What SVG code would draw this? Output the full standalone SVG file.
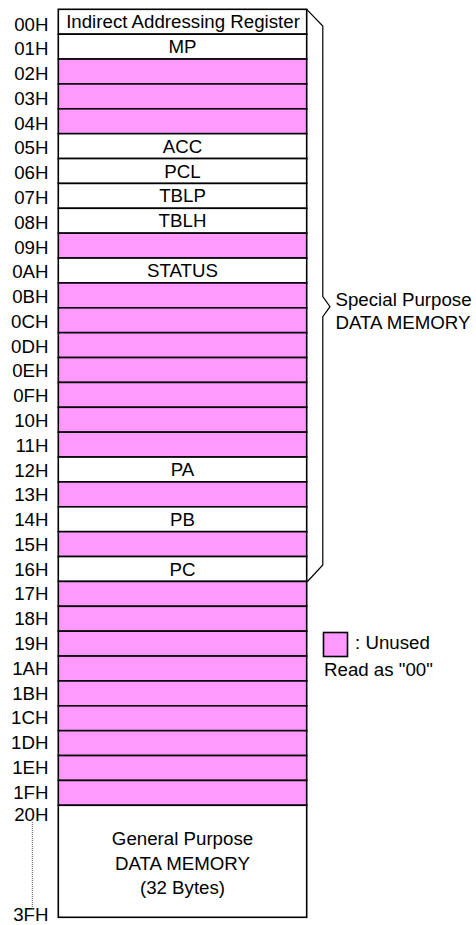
<svg xmlns="http://www.w3.org/2000/svg" width="476" height="925" viewBox="0 0 476 925">
<style>
text{font-family:"Liberation Sans",Arial,sans-serif;font-size:18.7px;fill:#000}
.u{fill:#ff99ff;stroke:#000;stroke-width:1.6}
.n{fill:#fff;stroke:#000;stroke-width:1.6}
.a{text-anchor:end}
.c{text-anchor:middle}
.br{fill:none;stroke:#000;stroke-width:1.2}
</style>
<rect width="476" height="925" fill="#fff"/>
<g id="rows">
<g id="r00"><rect class="n" x="58.3" y="9.3" width="248.4" height="24.875"/><text class="c" x="183" y="28.3">Indirect Addressing Register</text><text class="a" x="48.5" y="30.5">00H</text></g>
<g id="r01"><rect class="n" x="58.3" y="34.18" width="248.4" height="24.875"/><text class="c" x="182.5" y="53.18">MP</text><text class="a" x="48.5" y="55.28">01H</text></g>
<g id="r02"><rect class="u" x="58.3" y="59.05" width="248.4" height="24.875"/><text class="a" x="48.5" y="80.06">02H</text></g>
<g id="r03"><rect class="u" x="58.3" y="83.93" width="248.4" height="24.875"/><text class="a" x="48.5" y="104.84">03H</text></g>
<g id="r04"><rect class="u" x="58.3" y="108.8" width="248.4" height="24.875"/><text class="a" x="48.5" y="129.62">04H</text></g>
<g id="r05"><rect class="n" x="58.3" y="133.68" width="248.4" height="24.875"/><text class="c" x="182.5" y="152.68">ACC</text><text class="a" x="48.5" y="154.4">05H</text></g>
<g id="r06"><rect class="n" x="58.3" y="158.55" width="248.4" height="24.875"/><text class="c" x="182.5" y="177.55">PCL</text><text class="a" x="48.5" y="179.18">06H</text></g>
<g id="r07"><rect class="n" x="58.3" y="183.43" width="248.4" height="24.875"/><text class="c" x="182.5" y="202.43">TBLP</text><text class="a" x="48.5" y="203.96">07H</text></g>
<g id="r08"><rect class="n" x="58.3" y="208.3" width="248.4" height="24.875"/><text class="c" x="182.5" y="227.3">TBLH</text><text class="a" x="48.5" y="228.74">08H</text></g>
<g id="r09"><rect class="u" x="58.3" y="233.18" width="248.4" height="24.875"/><text class="a" x="48.5" y="253.52">09H</text></g>
<g id="r0A"><rect class="n" x="58.3" y="258.05" width="248.4" height="24.875"/><text class="c" x="182.5" y="277.05">STATUS</text><text class="a" x="48.5" y="278.3">0AH</text></g>
<g id="r0B"><rect class="u" x="58.3" y="282.93" width="248.4" height="24.875"/><text class="a" x="48.5" y="303.08">0BH</text></g>
<g id="r0C"><rect class="u" x="58.3" y="307.8" width="248.4" height="24.875"/><text class="a" x="48.5" y="327.86">0CH</text></g>
<g id="r0D"><rect class="u" x="58.3" y="332.68" width="248.4" height="24.875"/><text class="a" x="48.5" y="352.64">0DH</text></g>
<g id="r0E"><rect class="u" x="58.3" y="357.55" width="248.4" height="24.875"/><text class="a" x="48.5" y="377.42">0EH</text></g>
<g id="r0F"><rect class="u" x="58.3" y="382.43" width="248.4" height="24.875"/><text class="a" x="48.5" y="402.2">0FH</text></g>
<g id="r10"><rect class="u" x="58.3" y="407.3" width="248.4" height="24.875"/><text class="a" x="48.5" y="426.98">10H</text></g>
<g id="r11"><rect class="u" x="58.3" y="432.18" width="248.4" height="24.875"/><text class="a" x="48.5" y="451.76">11H</text></g>
<g id="r12"><rect class="n" x="58.3" y="457.05" width="248.4" height="24.875"/><text class="c" x="182.5" y="476.05">PA</text><text class="a" x="48.5" y="476.54">12H</text></g>
<g id="r13"><rect class="u" x="58.3" y="481.93" width="248.4" height="24.875"/><text class="a" x="48.5" y="501.32">13H</text></g>
<g id="r14"><rect class="n" x="58.3" y="506.8" width="248.4" height="24.875"/><text class="c" x="182.5" y="525.8">PB</text><text class="a" x="48.5" y="526.1">14H</text></g>
<g id="r15"><rect class="u" x="58.3" y="531.68" width="248.4" height="24.875"/><text class="a" x="48.5" y="550.88">15H</text></g>
<g id="r16"><rect class="n" x="58.3" y="556.55" width="248.4" height="24.875"/><text class="c" x="182.5" y="575.55">PC</text><text class="a" x="48.5" y="575.66">16H</text></g>
<g id="r17"><rect class="u" x="58.3" y="581.43" width="248.4" height="24.875"/><text class="a" x="48.5" y="600.44">17H</text></g>
<g id="r18"><rect class="u" x="58.3" y="606.3" width="248.4" height="24.875"/><text class="a" x="48.5" y="625.22">18H</text></g>
<g id="r19"><rect class="u" x="58.3" y="631.18" width="248.4" height="24.875"/><text class="a" x="48.5" y="650">19H</text></g>
<g id="r1A"><rect class="u" x="58.3" y="656.05" width="248.4" height="24.875"/><text class="a" x="48.5" y="674.78">1AH</text></g>
<g id="r1B"><rect class="u" x="58.3" y="680.93" width="248.4" height="24.875"/><text class="a" x="48.5" y="699.56">1BH</text></g>
<g id="r1C"><rect class="u" x="58.3" y="705.8" width="248.4" height="24.875"/><text class="a" x="48.5" y="724.34">1CH</text></g>
<g id="r1D"><rect class="u" x="58.3" y="730.68" width="248.4" height="24.875"/><text class="a" x="48.5" y="749.12">1DH</text></g>
<g id="r1E"><rect class="u" x="58.3" y="755.55" width="248.4" height="24.875"/><text class="a" x="48.5" y="773.9">1EH</text></g>
<g id="r1F"><rect class="u" x="58.3" y="780.43" width="248.4" height="24.875"/><text class="a" x="48.5" y="798.68">1FH</text></g>
<g id="general"><rect class="n" x="58.3" y="805.3" width="248.4" height="112"/>
<text class="c" x="182.5" y="845">General Purpose</text>
<text class="c" x="182.5" y="869.5">DATA MEMORY</text>
<text class="c" x="182.5" y="894">(32 Bytes)</text>
<text class="a" x="48.5" y="820.5">20H</text>
<text class="a" x="48.5" y="921">3FH</text>
<line x1="32.3" y1="822" x2="32.3" y2="909" stroke="#555" stroke-width="1" stroke-dasharray="1,1"/>
</g>
</g>
<g id="connectors">
<path class="br" d="M306.7,9.3 L322.8,26 L322.8,296.5 L330,306.7 L322.8,316.7 L322.8,565 L307.5,581.5"/>
</g>
<g id="special-label">
<text x="335.5" y="306">Special Purpose</text>
<text x="335.5" y="328.5">DATA MEMORY</text>
</g>
<g id="legend">
<rect class="u" x="323.5" y="632.5" width="24" height="24"/>
<text x="355" y="648.5">: Unused</text>
<text x="324" y="675.5">Read as "00"</text>
</g>
</svg>
